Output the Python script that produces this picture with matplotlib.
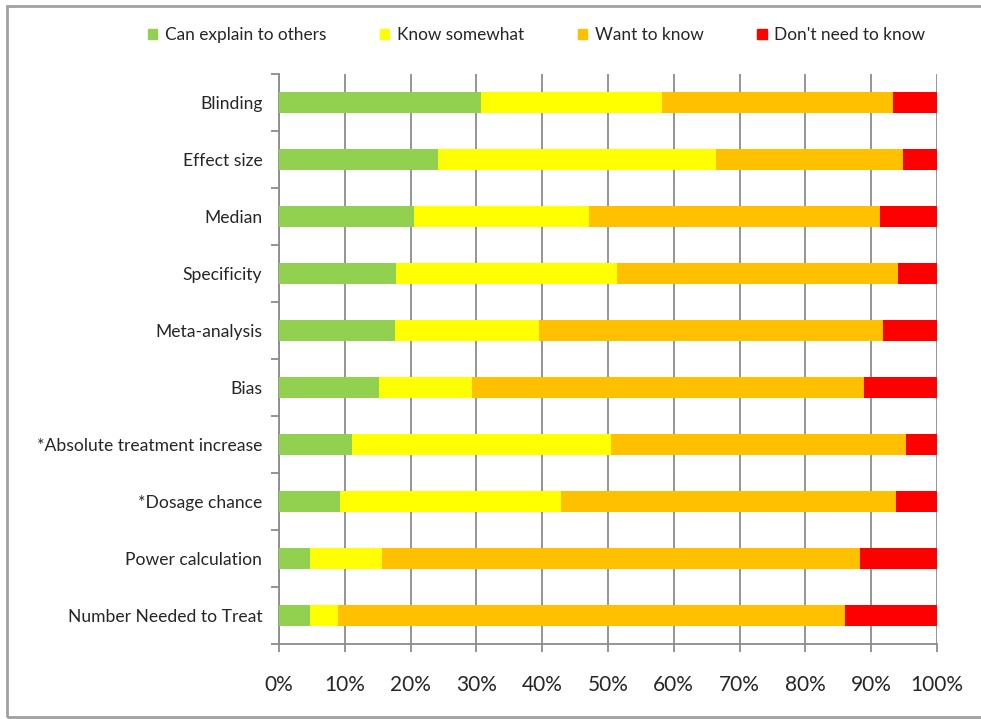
import matplotlib
matplotlib.use('Agg')
import matplotlib.pyplot as plt
from matplotlib.patches import Patch, Rectangle
from matplotlib.ticker import FixedLocator, PercentFormatter

plt.rcParams['font.family'] = ['Lato', 'DejaVu Sans']

topics = ['Blinding', 'Effect size', 'Median', 'Specificity', 'Meta-analysis', 'Bias',
          '*Absolute treatment increase', '*Dosage chance', 'Power calculation',
          'Number Needed to Treat']
can_explain = [30.7, 24.2, 20.5, 17.8, 17.6, 15.2, 11.1, 9.3, 4.7, 4.7]
know_somewhat = [27.5, 42.2, 26.6, 33.6, 21.9, 14.1, 39.4, 33.6, 11.0, 4.3]
want_to_know = [35.1, 28.4, 44.2, 42.7, 52.3, 59.6, 44.8, 50.9, 72.6, 77.0]
dont_need = [6.7, 5.2, 8.7, 5.9, 8.2, 11.1, 4.7, 6.2, 11.7, 14.0]

series = [('Can explain to others', can_explain, '#92D050'),
          ('Know somewhat', know_somewhat, '#FFFF00'),
          ('Want to know', want_to_know, '#FFC000'),
          ("Don't need to know", dont_need, '#FF0000')]

fig = plt.figure(figsize=(9.81, 7.19), dpi=100)
ax = fig.add_axes([0.2844, 0.1043, 0.6707, 0.7928])

ypos = list(range(len(topics)))
left = [0.0] * len(topics)
for name, vals, col in series:
    ax.barh(ypos, vals, left=left, height=0.37, color=col, label=name, zorder=3)
    left = [a + b for a, b in zip(left, vals)]

ax.set_xlim(0, 100)
ax.set_ylim(len(topics) - 0.5, -0.5)
ax.set_xticks(range(0, 101, 10))
ax.xaxis.set_major_formatter(PercentFormatter(decimals=0))
ax.set_yticks(ypos)
ax.set_yticklabels(topics)
ax.yaxis.set_minor_locator(FixedLocator([i - 0.5 for i in range(len(topics) + 1)]))

ax.grid(axis='x', color='#8c8c8c', linewidth=1.3, zorder=0)
for s in ['top', 'right']:
    ax.spines[s].set_visible(False)
for s in ['left', 'bottom']:
    ax.spines[s].set_color('#8c8c8c')
    ax.spines[s].set_linewidth(1.3)

ax.tick_params(axis='y', which='major', length=0, pad=12, labelsize=12.6, labelcolor='#262626')
ax.tick_params(axis='y', which='minor', length=6, width=1.3, color='#8c8c8c')
ax.tick_params(axis='x', length=6, width=1.3, color='#8c8c8c', pad=16,
               labelsize=15, labelcolor='#262626')

handles = [Patch(color=c, label=n) for n, v, c in series]
fig.legend(handles=handles, loc='center', bbox_to_anchor=(0.547, 0.951), ncol=4,
           frameon=False, fontsize=12.4, handlelength=0.55, handleheight=0.55,
           handletextpad=0.45, columnspacing=3.1, labelcolor='#262626')

fig.patches.append(Rectangle((7 / 981, 1 - 717 / 719), 1.05, 711 / 719,
                             transform=fig.transFigure, fill=False,
                             edgecolor='#a0a0a0', linewidth=2))

fig.savefig('out.png', dpi=100)
